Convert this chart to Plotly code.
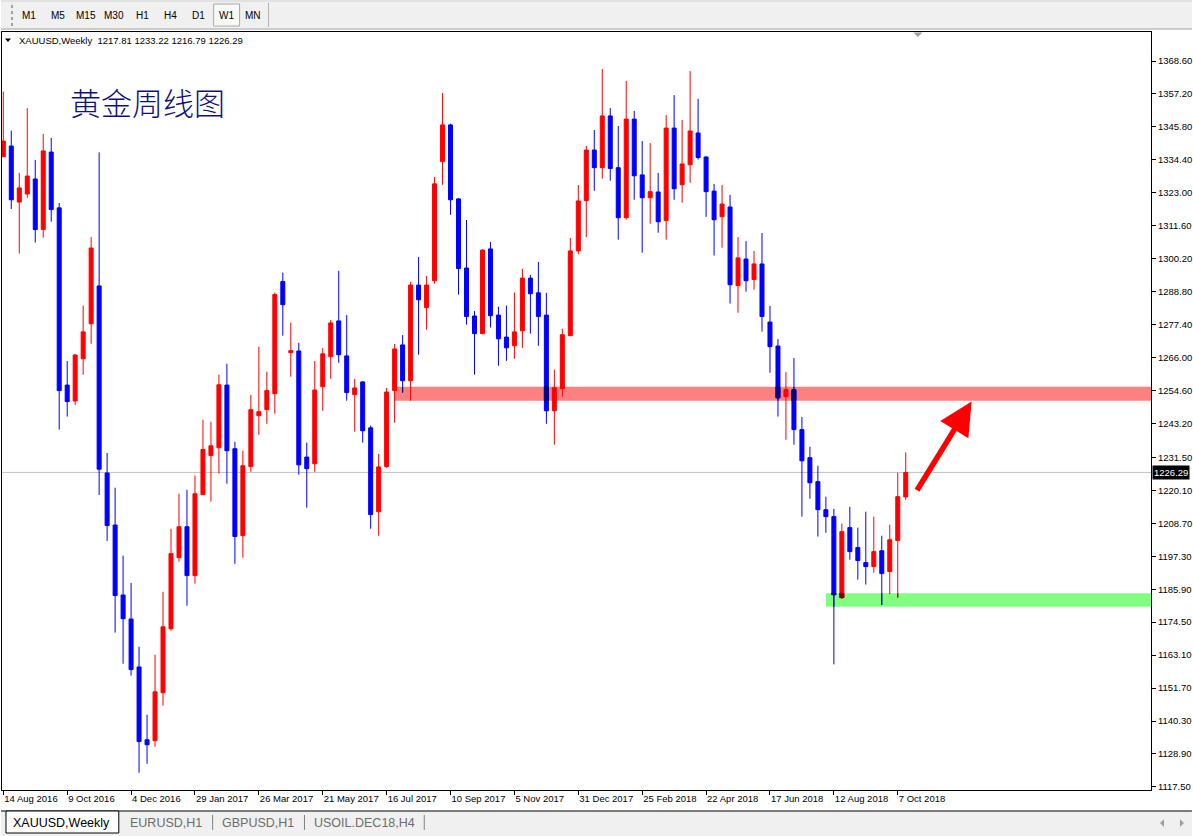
import pandas as pd
import plotly.graph_objects as go

# ---------------- data ----------------
start_date = "2016-08-14"
opens = [1335.5, 1339.2, 1319.8, 1322.6, 1327.8, 1310.3, 1337.1, 1317.8, 1256.5, 1251.0,
         1265.6, 1277.7, 1290.8, 1226.1, 1208.1, 1183.9, 1175.6, 1159.0, 1133.8, 1133.5,
         1150.1, 1172.2, 1196.8, 1207.5, 1190.6, 1218.6, 1232.1, 1234.8, 1256.5, 1234.5,
         1204.4, 1228.3, 1245.9, 1248.0, 1253.5, 1292.3, 1267.7, 1268.3, 1231.6, 1229.3,
         1255.9, 1266.3, 1278.7, 1266.6, 1253.2, 1257.6, 1241.7, 1212.7, 1228.3, 1254.6,
         1270.4, 1258.0, 1291.1, 1283.3, 1292.6, 1333.8, 1346.5, 1320.9, 1297.0, 1280.4,
         1274.3, 1303.6, 1280.7, 1273.1, 1270.1, 1275.3, 1293.5, 1288.4, 1280.7, 1247.6,
         1255.3, 1273.6, 1302.9, 1320.3, 1337.8, 1331.7, 1349.6, 1331.7, 1314.4, 1348.5,
         1329.2, 1321.3, 1323.3, 1313.4, 1345.4, 1325.8, 1332.7, 1343.7, 1335.4, 1323.6,
         1314.7, 1318.1, 1290.9, 1300.1, 1293.0, 1298.4, 1278.3, 1270.0, 1252.5, 1254.9,
         1241.1, 1231.4, 1223.1, 1213.4, 1211.0, 1183.0, 1207.2, 1200.3, 1195.1, 1193.7,
         1199.2, 1192.0, 1202.7, 1217.81]
highs = [1358.0, 1344.5, 1329.9, 1352.3, 1334.4, 1343.4, 1342.0, 1319.5, 1264.8, 1267.3,
         1284.0, 1307.7, 1337.0, 1233.0, 1221.0, 1197.5, 1188.1, 1166.0, 1142.5, 1163.2,
         1185.0, 1206.8, 1218.9, 1220.3, 1225.2, 1244.5, 1243.8, 1260.1, 1263.9, 1236.9,
         1233.8, 1253.1, 1269.8, 1261.1, 1288.5, 1295.4, 1278.1, 1271.1, 1236.6, 1264.8,
         1269.3, 1279.0, 1296.0, 1280.7, 1258.6, 1257.9, 1242.5, 1232.7, 1255.5, 1270.7,
         1273.8, 1292.2, 1300.8, 1294.2, 1328.5, 1357.5, 1346.9, 1321.2, 1313.6, 1282.1,
         1303.4, 1306.0, 1283.6, 1284.0, 1288.5, 1296.7, 1294.6, 1299.1, 1288.4, 1261.8,
         1276.0, 1307.4, 1325.7, 1339.2, 1344.7, 1365.8, 1352.3, 1346.1, 1361.7, 1351.3,
         1340.9, 1340.2, 1329.9, 1349.9, 1356.8, 1348.2, 1365.1, 1355.5, 1335.6, 1326.1,
         1325.7, 1322.3, 1307.7, 1306.3, 1302.9, 1309.1, 1283.9, 1272.4, 1261.0, 1265.9,
         1245.5, 1235.2, 1228.6, 1217.9, 1213.7, 1208.6, 1214.4, 1207.2, 1212.7, 1211.0,
         1204.4, 1208.2, 1226.2, 1233.22]
lows = [1335.4, 1317.4, 1302.0, 1321.3, 1305.8, 1307.5, 1313.0, 1241.1, 1245.6, 1249.6,
        1260.1, 1270.8, 1218.5, 1202.6, 1170.9, 1160.1, 1156.0, 1122.4, 1125.5, 1131.4,
        1145.6, 1171.5, 1195.4, 1180.2, 1187.8, 1218.4, 1216.2, 1225.9, 1222.4, 1194.7,
        1196.8, 1226.5, 1239.3, 1243.1, 1246.6, 1273.6, 1259.4, 1225.5, 1214.1, 1226.5,
        1247.6, 1258.7, 1264.2, 1251.1, 1240.4, 1236.6, 1206.8, 1204.4, 1227.9, 1243.5,
        1253.9, 1251.1, 1267.0, 1275.7, 1291.6, 1325.8, 1315.4, 1287.8, 1277.4, 1260.1,
        1274.1, 1276.4, 1263.2, 1264.9, 1265.6, 1269.4, 1274.3, 1270.1, 1243.1, 1235.9,
        1252.5, 1273.4, 1301.8, 1307.7, 1323.7, 1327.9, 1327.2, 1306.8, 1313.7, 1320.6,
        1302.3, 1312.3, 1309.2, 1306.8, 1320.6, 1319.6, 1326.5, 1334.5, 1314.7, 1301.3,
        1304.0, 1284.7, 1281.5, 1288.8, 1289.5, 1275.0, 1260.8, 1245.6, 1237.6, 1235.9,
        1211.0, 1217.2, 1204.1, 1205.4, 1159.9, 1182.6, 1196.1, 1189.2, 1187.5, 1191.6,
        1180.5, 1184.3, 1183.0, 1216.79]
closes = [1340.9, 1320.6, 1324.7, 1328.8, 1310.3, 1337.5, 1317.2, 1254.6, 1250.8, 1266.9,
          1274.9, 1303.9, 1227.4, 1207.9, 1183.7, 1175.7, 1158.1, 1133.2, 1132.1, 1150.4,
          1172.9, 1198.2, 1207.5, 1190.6, 1218.9, 1234.2, 1235.5, 1256.6, 1233.8, 1204.1,
          1228.6, 1248.0, 1247.3, 1254.6, 1287.8, 1284.3, 1268.4, 1228.9, 1227.6, 1254.8,
          1267.3, 1278.0, 1267.0, 1253.9, 1255.5, 1240.7, 1211.7, 1228.2, 1254.1, 1269.0,
          1258.0, 1291.1, 1286.0, 1291.1, 1326.1, 1346.5, 1320.6, 1296.8, 1280.2, 1274.3,
          1303.2, 1280.5, 1272.5, 1269.4, 1274.9, 1293.5, 1288.1, 1280.2, 1247.6, 1255.6,
          1273.9, 1302.9, 1320.2, 1337.8, 1331.7, 1349.6, 1331.4, 1314.4, 1348.5, 1328.9,
          1321.3, 1323.4, 1313.0, 1345.4, 1324.4, 1333.0, 1344.4, 1335.2, 1323.4, 1313.7,
          1319.1, 1291.2, 1300.5, 1292.6, 1298.4, 1280.2, 1269.8, 1252.1, 1254.9, 1241.1,
          1230.3, 1222.7, 1213.4, 1211.0, 1184.0, 1205.8, 1198.9, 1195.8, 1193.7, 1198.9,
          1191.3, 1203.0, 1217.9, 1226.29]

x_tick_labels = ["14 Aug 2016", "9 Oct 2016", "4 Dec 2016", "29 Jan 2017", "26 Mar 2017",
                 "21 May 2017", "16 Jul 2017", "10 Sep 2017", "5 Nov 2017", "31 Dec 2017",
                 "25 Feb 2018", "22 Apr 2018", "17 Jun 2018", "12 Aug 2018", "7 Oct 2018"]
x_tick_every = 8  # weeks between date labels
y_tick_values = [1368.60, 1357.20, 1345.80, 1334.40, 1323.00, 1311.60, 1300.20, 1288.80,
                 1277.40, 1266.00, 1254.60, 1243.20, 1231.50, 1220.10, 1208.70, 1197.30,
                 1185.90, 1174.50, 1163.10, 1151.70, 1140.30, 1128.90, 1117.50]

current_price = 1226.29
resistance_zone = (1251.1, 1255.9)
resistance_start_bar = 49
support_zone = (1179.8, 1184.5)
support_start_bar = 103
arrow_tail = (114.3, 1219.6)   # (weeks after first bar, price)
arrow_tip = (121.25, 1250.8)

chart_title = "黄金周线图"
symbol_name = "XAUUSD,Weekly"
timeframes = ["M1", "M5", "M15", "M30", "H1", "H4", "D1", "W1", "MN"]
active_timeframe = "W1"
tabs = ["XAUUSD,Weekly", "EURUSD,H1", "GBPUSD,H1", "USOIL.DEC18,H4"]

# ---------------- styling / layout constants ----------------
W, H = 1193, 836
PL, PR, PT, PB = 1, 1152, 32, 790          # plot area in pixels
UP, DOWN = "#FF0000", "#0000FF"
FONT = "Liberation Sans"
SMALL = 9.5

dates = pd.date_range(start_date, periods=len(opens), freq="7D")
week = pd.Timedelta(days=7)
x_range = [dates[0] - 0.1625 * week, dates[0] + 143.71 * week]
y_range = [1116.44, 1378.63]


def px(x):
    return (x - PL) / (PR - PL)


def py(y):
    return (PB - y) / (PB - PT)


fig = go.Figure()

# main candles
fig.add_trace(go.Candlestick(
    x=dates, open=opens, high=highs, low=lows, close=closes,
    increasing=dict(line=dict(color=UP, width=1), fillcolor=UP),
    decreasing=dict(line=dict(color=DOWN, width=1), fillcolor=DOWN),
    whiskerwidth=0, hoverinfo="skip", showlegend=False))

# "multiply" look of the zones over the candles
n = len(opens)
zones = [(resistance_start_bar, resistance_zone, None, "#000080"),
         (support_start_bar, support_zone, "#800000", "#000080")]
ov_o, ov_h, ov_l, ov_c = [None] * n, [None] * n, [None] * n, [None] * n
wick_x = {"#000080": [], "#800000": []}
wick_y = {"#000080": [], "#800000": []}
for i0, (zlo, zhi), c_up, c_dn in zones:
    for i in range(i0, n):
        o, h, l, c = opens[i], highs[i], lows[i], closes[i]
        col = c_up if c >= o else c_dn
        if col is None:
            continue
        blo, bhi = max(min(o, c), zlo), min(max(o, c), zhi)
        if blo < bhi:
            if c >= o:
                ov_o[i], ov_c[i] = blo, bhi
            else:
                ov_o[i], ov_c[i] = bhi, blo
            ov_h[i], ov_l[i] = bhi, blo
        wlo, whi = max(l, zlo), min(h, zhi)
        if wlo < whi:
            wick_x[col] += [dates[i], dates[i], None]
            wick_y[col] += [wlo, whi, None]

fig.add_trace(go.Candlestick(
    x=dates, open=ov_o, high=ov_h, low=ov_l, close=ov_c,
    increasing=dict(line=dict(color="#800000", width=1), fillcolor="#800000"),
    decreasing=dict(line=dict(color="#000080", width=1), fillcolor="#000080"),
    whiskerwidth=0, hoverinfo="skip", showlegend=False))
for col in wick_x:
    if wick_x[col]:
        fig.add_trace(go.Scatter(x=wick_x[col], y=wick_y[col], mode="lines",
                                 line=dict(color=col, width=1), hoverinfo="skip",
                                 showlegend=False))

shapes = []
# zones
shapes.append(dict(type="rect", xref="x", yref="y", x0=dates[resistance_start_bar],
                   x1=x_range[1], y0=resistance_zone[0], y1=resistance_zone[1],
                   fillcolor="#FF8080", line=dict(width=0), layer="below"))
shapes.append(dict(type="rect", xref="x", yref="y", x0=dates[support_start_bar],
                   x1=x_range[1], y0=support_zone[0], y1=support_zone[1],
                   fillcolor="#80FF80", line=dict(width=0), layer="below"))
# current price line
shapes.append(dict(type="line", xref="paper", yref="y", x0=0, x1=1,
                   y0=current_price, y1=current_price,
                   line=dict(color="#C0C0C0", width=1), layer="below"))

# window chrome: toolbar
shapes.append(dict(type="rect", xref="paper", yref="paper", x0=px(0), x1=px(W),
                   y0=py(29), y1=py(0), fillcolor="#F0F0F0", line=dict(width=0), layer="above"))
shapes.append(dict(type="line", xref="paper", yref="paper", x0=px(0), x1=px(W),
                   y0=py(29), y1=py(29), line=dict(color="#A0A0A0", width=1), layer="above"))
shapes.append(dict(type="line", xref="paper", yref="paper", x0=px(0), x1=px(W),
                   y0=py(1), y1=py(1), line=dict(color="#D4D4D4", width=1), layer="above"))
shapes.append(dict(type="line", xref="paper", yref="paper", x0=px(11), x1=px(11),
                   y0=py(26), y1=py(5), line=dict(color="#A0A0A0", width=2, dash="dot"),
                   layer="above"))
shapes.append(dict(type="line", xref="paper", yref="paper", x0=px(268), x1=px(268),
                   y0=py(27), y1=py(3), line=dict(color="#B0B0B0", width=1), layer="above"))
tf_x = [28, 57, 85, 113, 142, 170, 198, 226, 252]
aidx = timeframes.index(active_timeframe)
shapes.append(dict(type="rect", xref="paper", yref="paper", x0=px(tf_x[aidx] - 13),
                   x1=px(tf_x[aidx] + 13), y0=py(26), y1=py(4), fillcolor="#F9F9F9",
                   line=dict(color="#A8A8A8", width=1), layer="above"))
# chart shift marker
shapes.append(dict(type="path", xref="paper", yref="paper",
                   path="M {} {} L {} {} L {} {} Z".format(px(914), py(32.5), px(923), py(32.5),
                                                           px(918.5), py(37)),
                   fillcolor="#A0A0A0", line=dict(width=0), layer="above"))
# header triangle
shapes.append(dict(type="path", xref="paper", yref="paper",
                   path="M {} {} L {} {} L {} {} Z".format(px(4), py(38.5), px(10), py(38.5),
                                                           px(7), py(42)),
                   fillcolor="#000000", line=dict(width=0), layer="above"))
# bottom tab bar
shapes.append(dict(type="rect", xref="paper", yref="paper", x0=px(0), x1=px(W),
                   y0=py(H), y1=py(811), fillcolor="#F0F0F0", line=dict(width=0), layer="above"))
shapes.append(dict(type="line", xref="paper", yref="paper", x0=px(0), x1=px(W),
                   y0=py(811), y1=py(811), line=dict(color="#000000", width=1), layer="above"))
shapes.append(dict(type="rect", xref="paper", yref="paper", x0=px(5), x1=px(118),
                   y0=py(833), y1=py(811), fillcolor="#FFFFFF",
                   line=dict(color="#000000", width=1), layer="above"))
for sx in [212, 304, 424]:
    shapes.append(dict(type="line", xref="paper", yref="paper", x0=px(sx), x1=px(sx),
                       y0=py(830), y1=py(815), line=dict(color="#808080", width=1),
                       layer="above"))
# scroll arrows
shapes.append(dict(type="path", xref="paper", yref="paper",
                   path="M {} {} L {} {} L {} {} Z".format(px(1165), py(819), px(1165), py(827),
                                                           px(1161), py(823)),
                   fillcolor="#A0A0A0", line=dict(width=0), layer="above"))
shapes.append(dict(type="path", xref="paper", yref="paper",
                   path="M {} {} L {} {} L {} {} Z".format(px(1181), py(819), px(1181), py(827),
                                                           px(1185), py(823)),
                   fillcolor="#A0A0A0", line=dict(width=0), layer="above"))

annotations = []
for i, tf in enumerate(timeframes):
    annotations.append(dict(text=tf, xref="paper", yref="paper", x=px(tf_x[i]), y=py(16),
                            xanchor="center", yanchor="middle", showarrow=False,
                            font=dict(family=FONT, size=SMALL + 0.5, color="#000000")))
header = "{}\u00a0\u00a0{:.2f} {:.2f} {:.2f} {:.2f}".format(symbol_name, opens[-1], highs[-1],
                                                          lows[-1], closes[-1])
annotations.append(dict(text=header, xref="paper", yref="paper", x=px(16), y=py(40),
                        xanchor="left", yanchor="middle", showarrow=False,
                        font=dict(family=FONT, size=SMALL, color="#000000")))
annotations.append(dict(text=chart_title, xref="paper", yref="paper", x=px(67), y=py(101),
                        xanchor="left", yanchor="middle", showarrow=False,
                        font=dict(family="Noto Sans CJK SC", size=31, color="#10107A",
                                  weight=300)))
annotations.append(dict(text="{:.2f}".format(current_price), xref="paper", yref="y",
                        x=1, y=current_price, xanchor="left", yanchor="middle", xshift=1,
                        showarrow=False, bgcolor="#000000", borderpad=1,
                        font=dict(family=FONT, size=SMALL, color="#FFFFFF")))
annotations.append(dict(xref="x", yref="y", axref="x", ayref="y",
                        x=dates[0] + arrow_tip[0] * week, y=arrow_tip[1],
                        ax=dates[0] + arrow_tail[0] * week, ay=arrow_tail[1],
                        text="", showarrow=True, arrowhead=2, arrowsize=1.2,
                        arrowwidth=5.5, arrowcolor="#FF0000"))
tab_x = [61, 165, 257, 364]
for i, t in enumerate(tabs):
    annotations.append(dict(text=t, xref="paper", yref="paper", x=px(tab_x[i]), y=py(823),
                            xanchor="center", yanchor="middle", showarrow=False,
                            font=dict(family=FONT, size=12.5,
                                      color="#000000" if i == 0 else "#6D6D6D")))

fig.update_layout(
    width=W, height=H, autosize=False,
    margin=dict(l=PL, r=W - PR, t=PT, b=H - PB, pad=0),
    paper_bgcolor="#FFFFFF", plot_bgcolor="#FFFFFF",
    boxgap=0.5, boxgroupgap=0, showlegend=False,
    shapes=shapes, annotations=annotations,
    xaxis=dict(type="date", range=x_range, rangeslider=dict(visible=False),
               tickvals=list(dates[::x_tick_every]), ticktext=x_tick_labels,
               ticks="outside", ticklen=4, tickcolor="#000000", tickwidth=1,
               ticklabelposition="outside right",
               tickfont=dict(family=FONT, size=SMALL, color="#000000"),
               showline=True, linecolor="#000000", linewidth=1, mirror=True,
               showgrid=False, zeroline=False, fixedrange=True),
    yaxis=dict(side="right", range=y_range, tickvals=y_tick_values,
               ticktext=["{:.2f}".format(v) for v in y_tick_values],
               ticks="outside", ticklen=4, tickcolor="#000000", tickwidth=1,
               tickfont=dict(family=FONT, size=SMALL, color="#000000"),
               showline=True, linecolor="#000000", linewidth=1, mirror=True,
               showgrid=False, zeroline=False, fixedrange=True),
)

fig.write_html("out.html", config={"displayModeBar": False},
               post_script="document.body.style.margin='0px';")
